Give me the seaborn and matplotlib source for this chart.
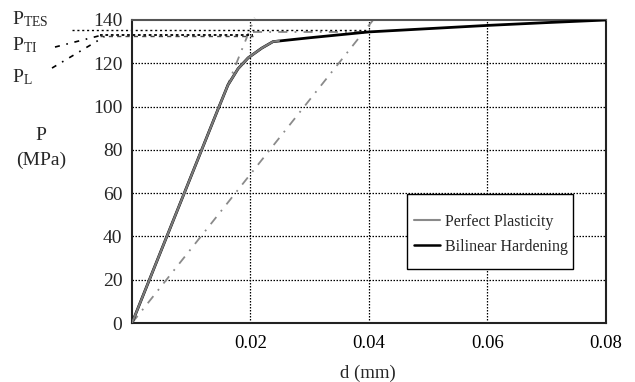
import numpy as np
import pandas as pd
import matplotlib
matplotlib.use("Agg")
import matplotlib.pyplot as plt
import seaborn as sns
from matplotlib.lines import Line2D
from matplotlib.patches import Rectangle

# ---- data ----
d_bilinear = [0.0, 0.0147, 0.0162, 0.0179, 0.0196, 0.0219, 0.0238, 0.030, 0.040, 0.050, 0.060, 0.070, 0.080]
p_bilinear = [0.0, 100.0, 110.0, 117.5, 122.5, 127.0, 130.0, 131.8, 134.5, 136.0, 137.5, 138.8, 140.0]
d_perfect = [0.0, 0.0147, 0.0162, 0.0179, 0.0196, 0.0219, 0.0238, 0.0248]
p_perfect = [0.0, 100.0, 110.0, 117.5, 122.5, 127.0, 130.0, 130.4]
series_names = ["Perfect Plasticity", "Bilinear Hardening"]

# construction lines (dash-dot, grey)
elastic_ext_d = [0.0, 0.0207]
elastic_ext_p = [0.0, 141.0]
offset_d = [0.0, 0.0407]
offset_p = [0.0, 140.0]
p_tes = 135.2
p_ti = 133.0
p_tes_hline_grey_d = [0.0205, 0.040]

xticks = [0.02, 0.04, 0.06, 0.08]
xtick_labels = ["0.02", "0.04", "0.06", "0.08"]
yticks = [0, 20, 40, 60, 80, 100, 120, 140]

df = pd.concat([
    pd.DataFrame({"d": d_perfect, "P": p_perfect, "series": series_names[0]}),
    pd.DataFrame({"d": d_bilinear, "P": p_bilinear, "series": series_names[1]}),
], ignore_index=True)

sns.set_style("white")
plt.rcParams["font.family"] = ["Liberation Serif", "DejaVu Serif"]
plt.rcParams["mathtext.fontset"] = "custom"
plt.rcParams["mathtext.rm"] = "Liberation Serif"
plt.rcParams["mathtext.it"] = "Liberation Serif:italic"

W, H = 635, 382
fig = plt.figure(figsize=(W / 100, H / 100), dpi=100)
L, R, T, B = 132, 606, 20, 323
ax = fig.add_axes([L / W, 1 - B / H, (R - L) / W, (B - T) / H])

ax.set_xlim(0, 0.08)
ax.set_ylim(0, 140)

# grid
for y in yticks[1:-1]:
    ax.axhline(y, color="black", lw=0.9, ls=(0, (1.2, 1.2)), zorder=1)
for x in xticks[:-1]:
    ax.axvline(x, color="black", lw=0.9, ls=(0, (1.2, 1.2)), zorder=1)

grey = "#8a8a8a"
dashdot = (0, (5, 4, 1, 4))
# construction lines
ax.plot(elastic_ext_d, elastic_ext_p, color=grey, lw=1.3, ls=dashdot, clip_on=False, zorder=2)
ax.plot(offset_d, offset_p, color=grey, lw=1.3, ls=dashdot, clip_on=False, zorder=2)
ax.plot(p_tes_hline_grey_d, [134.3, 134.3], color=grey, lw=1.3, ls=dashdot, zorder=2)

# level lines
ax.plot([-0.0101, 0.040], [p_tes, p_tes], color="black", lw=1.0, ls=(0, (1.5, 2)), clip_on=False, zorder=2)
ax.plot([-0.0054, 0.0205], [p_ti, p_ti], color="black", lw=1.3, ls=(0, (1.5, 1.5)), clip_on=False, zorder=2)
ax.plot([-0.0054, 0.0205], [p_ti - 0.4, p_ti - 0.4], color="#444444", lw=1.0, ls=(0, (3, 3)), clip_on=False, zorder=2)

# leader lines
ax.plot([-0.0130, -0.0051], [127.5, 133.0], color="black", lw=1.2, ls=(0, (3, 4, 1, 4)), clip_on=False)
ax.plot([-0.0135, -0.0047], [117.8, 132.2], color="black", lw=1.2, ls=(0, (3, 4, 1, 4)), clip_on=False)

# main curves
sns.lineplot(data=df[df.series == series_names[1]], x="d", y="P", color="black", lw=2.0,
             sort=False, estimator=None, ax=ax, zorder=4, legend=False)
sns.lineplot(data=df[df.series == series_names[0]], x="d", y="P", color="#7a7a7a", lw=1.6,
             sort=False, estimator=None, ax=ax, zorder=5, legend=False)

# legend box (frame drawn separately for exact padding)
box = Rectangle(((407 - L) / (R - L), (B - 269) / (B - T)), 166 / (R - L), 75 / (B - T),
                transform=ax.transAxes, facecolor="white", edgecolor="black", lw=1.0, zorder=9)
ax.add_patch(box)
handles = [Line2D([], [], color="#8a8a8a", lw=1.5), Line2D([], [], color="black", lw=1.8)]
leg = ax.legend(handles, series_names, loc="center left",
                bbox_to_anchor=((414 - L) / (R - L), (B - 234.5) / (B - T)),
                borderaxespad=0, fontsize=11.5, frameon=False,
                handlelength=1.6, handletextpad=0.35,
                borderpad=0.0, labelspacing=0.57)
leg.set_zorder(10)

ax.set_xticks(xticks)
ax.set_xticklabels(xtick_labels)
ax.set_yticks(yticks)
ax.tick_params(axis="x", direction="in", length=4, width=1, pad=9, labelsize=13.5, colors="black")
ax.tick_params(axis="y", length=0, pad=7, labelsize=14)
ax.set_xlabel("")
ax.set_ylabel("")
for s in ax.spines.values():
    s.set_visible(True)
    s.set_color("#222222")
    s.set_linewidth(1.5)
ax.spines["top"].set_color("#555555")

# axis titles
fig.text(41 / W, 1 - 135 / H, "P", ha="center", va="center", fontsize=14)
fig.text(41 / W, 1 - 160 / H, "(MPa)", ha="center", va="center", fontsize=14)
fig.text(368 / W, 1 - 373 / H, "d (mm)", ha="center", va="center", fontsize=13.5)

# level labels
fig.text(12 / W, 1 - 19 / H, r"P$_{\mathrm{TES}}$", ha="left", va="center", fontsize=14)
fig.text(12 / W, 1 - 45 / H, r"P$_{\mathrm{TI}}$", ha="left", va="center", fontsize=14)
fig.text(12 / W, 1 - 77 / H, r"P$_{\mathrm{L}}$", ha="left", va="center", fontsize=14)

fig.savefig("out.png", dpi=100)
